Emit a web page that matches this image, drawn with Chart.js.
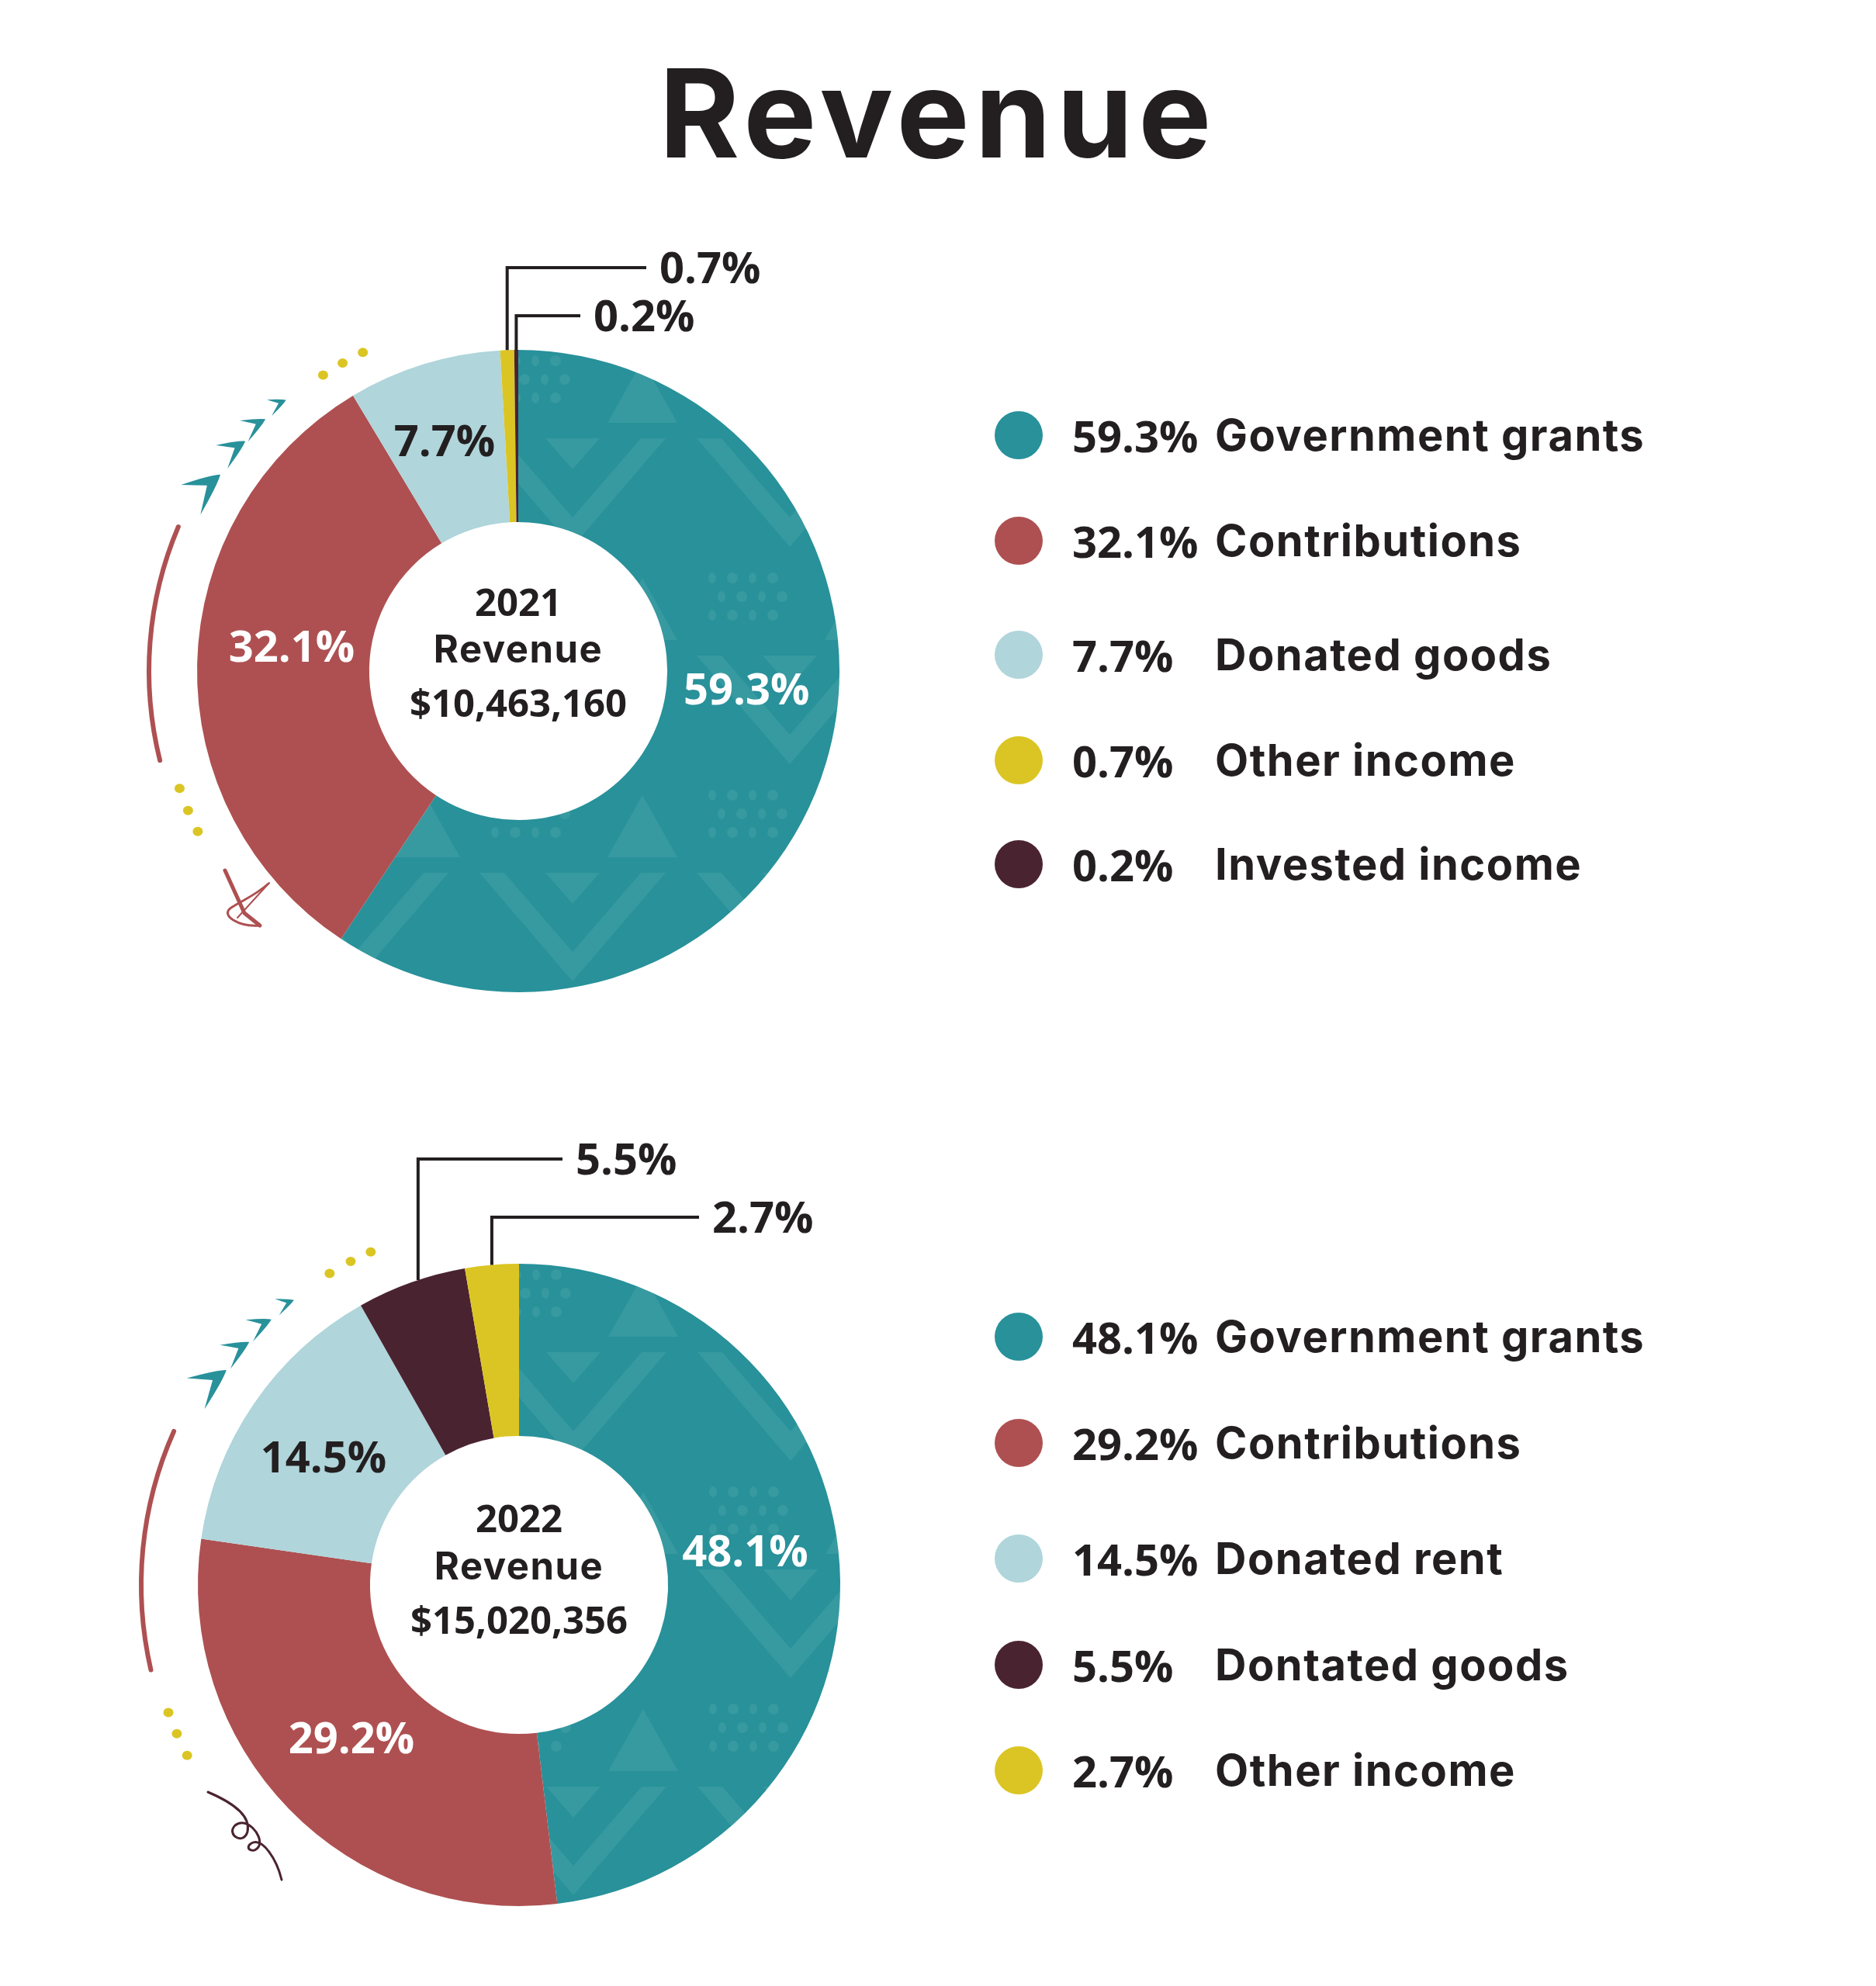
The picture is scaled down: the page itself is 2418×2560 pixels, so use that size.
<!DOCTYPE html>
<html>
<head>
<meta charset="utf-8">
<script src="https://cdn.jsdelivr.net/npm/chart.js@4.4.1/dist/chart.umd.min.js"></script>
<style>
html,body{margin:0;padding:0;background:#fff;}
body{width:2418px;height:2560px;position:relative;overflow:hidden;font-family:Inter,"Open Sans",sans-serif;color:#231F20;}
#title{position:absolute;left:0;width:2418px;top:67px;text-align:center;font-size:158px;line-height:158px;font-weight:700;letter-spacing:7px;}
canvas{position:absolute;}
.legend{position:absolute;left:1282px;top:0;z-index:2;}
.row{position:absolute;left:0;height:62px;width:1100px;white-space:nowrap;font-weight:700;font-size:56px;}
.dot{position:absolute;left:0;top:0;width:62px;height:62px;border-radius:50%;}
.pct{position:absolute;left:100px;top:0;line-height:62px;font-family:"Open Sans",sans-serif;}
.lab{position:absolute;left:284px;top:0;line-height:62px;letter-spacing:1.5px;}
</style>
</head>
<body>
<div id="title">Revenue</div>
<canvas id="c2021" width="1260" height="1200" style="left:38px;top:265px;width:1260px;height:1200px;"></canvas>
<canvas id="c2022" width="1260" height="1200" style="left:39px;top:1443px;width:1260px;height:1200px;"></canvas>
<div class="legend" id="leg2021"></div>
<div class="legend" id="leg2022"></div>
<script>
// ---------- data ----------
const years = ['2021', '2022'];
const totals = ['$10,463,160', '$15,020,356'];
const labels2021 = ['Government grants', 'Contributions', 'Donated goods', 'Other income', 'Invested income'];
const values2021 = [59.3, 32.1, 7.7, 0.7, 0.2];
const labels2022 = ['Government grants', 'Contributions', 'Donated rent', 'Dontated goods', 'Other income'];
const values2022 = [48.1, 29.2, 14.5, 5.5, 2.7];

// ---------- style ----------
const TEAL = '#28919A', TEAL_LIGHT = '#379AA0', RED = '#AE5051', LIGHT = '#B0D5DB',
      YELLOW = '#DBC524', DARK = '#4A2331', INK = '#231F20';
const colors2021 = [TEAL, RED, LIGHT, YELLOW, DARK];
const colors2022 = [TEAL, RED, LIGHT, DARK, YELLOW];
const WORD = 'Inter, "Open Sans", sans-serif';
const NUM = '"Open Sans", Inter, sans-serif';
Chart.defaults.font.family = WORD;

function makeTealPattern() {
  const c = document.createElement('canvas');
  c.width = 280; c.height = 280;
  const g = c.getContext('2d');
  g.fillStyle = TEAL; g.fillRect(0, 0, 280, 280);
  g.fillStyle = TEAL_LIGHT;
  g.beginPath();
  g.moveTo(20, 20); g.lineTo(140, 160); g.lineTo(260, 20); g.lineTo(228, 20);
  g.lineTo(140, 122); g.lineTo(52, 20); g.closePath(); g.fill();
  g.beginPath(); g.moveTo(105, 20); g.lineTo(175, 20); g.lineTo(140, 60); g.closePath(); g.fill();
  for (let i = 0; i < 4; i++) for (let j = 0; j < 3; j++) {
    g.beginPath();
    g.ellipse(40 + i * 26 + (j % 2) * 12, 200 + j * 24, 5 + (i % 2) * 2, 7, 0, 0, Math.PI * 2);
    g.fill();
  }
  g.beginPath(); g.moveTo(185, 280); g.lineTo(230, 200); g.lineTo(275, 280); g.closePath(); g.fill();
  return g.createPattern(c, 'repeat');
}
const tealPattern = makeTealPattern();
const fillOf = col => col === TEAL ? tealPattern : col;

function capText(ctx, txt, x, y, size, color, align, fam, spacing) {
  const cap = fam === NUM ? 0.714 : 0.727;
  ctx.font = '700 ' + size + 'px ' + fam;
  ctx.letterSpacing = (spacing || 0) + 'px';
  ctx.fillStyle = color;
  ctx.textAlign = align;
  ctx.textBaseline = 'alphabetic';
  ctx.fillText(txt, x, y + size * cap / 2);
  ctx.letterSpacing = '0px';
}
function polar(cx, cy, r, deg) {
  const t = deg * Math.PI / 180;
  return [cx + r * Math.sin(t), cy - r * Math.cos(t)];
}

const revenuePlugin = {
  id: 'revenue',
  afterDatasetsDraw(chart, args, o) {
    const ctx = chart.ctx;
    const arcs = chart.getDatasetMeta(0).data;
    const vals = chart.data.datasets[0].data;
    const cx = arcs[0].x, cy = arcs[0].y, R = arcs[0].outerRadius;
    ctx.save();
    // slice labels / callouts
    arcs.forEach((a, i) => {
      const txt = vals[i].toFixed(1) + '%';
      const co = o.callouts[i];
      if (co) {
        const mid = (a.startAngle + a.endAngle) / 2 + (co.shift || 0) * Math.PI / 180;
        const px = cx + R * Math.cos(mid), py = cy + R * Math.sin(mid);
        const ty = cy - R - co.rise;
        const ex = cx + co.endDx;
        ctx.strokeStyle = INK; ctx.lineWidth = 4; ctx.lineJoin = 'miter'; ctx.lineCap = 'butt';
        ctx.beginPath(); ctx.moveTo(px, py); ctx.lineTo(px, ty); ctx.lineTo(ex, ty); ctx.stroke();
        capText(ctx, txt, ex + 17, ty, 56, INK, 'left', NUM);
      } else {
        const p = a.tooltipPosition();
        const off = o.labelOffsets[i] || [0, 0];
        const col = chart.data.datasets[0].labelInk[i];
        capText(ctx, txt, p.x + off[0], p.y + off[1], 56, col, 'center', NUM);
      }
    });
    // centre text
    o.centerLines.forEach((t, k) => {
      const isNum = k !== 1;
      capText(ctx, t, cx, cy + o.centerDy[k], 49, INK, 'center', isNum ? NUM : WORD, isNum ? 0 : 1.5);
    });
    // decorations
    const d = o.deco;
    ctx.strokeStyle = RED; ctx.lineWidth = 6; ctx.lineCap = 'round';
    ctx.beginPath();
    ctx.arc(cx, cy, d.arc.r, (d.arc.from - 90) * Math.PI / 180, (d.arc.to - 90) * Math.PI / 180);
    ctx.stroke();
    ctx.fillStyle = YELLOW;
    [d.dotsTop, d.dotsBottom].forEach(set => set.angles.forEach(t => {
      const [x, y] = polar(cx, cy, set.r, t);
      ctx.beginPath(); ctx.ellipse(x, y, 6.5, 6, 0, 0, Math.PI * 2); ctx.fill();
    }));
    ctx.fillStyle = TEAL;
    d.chevrons.angles.forEach((t, k) => {
      const s = d.chevrons.sizes[k];
      const [x, y] = polar(cx, cy, d.chevrons.r, t);
      const tr = t * Math.PI / 180;
      const dx = Math.cos(tr), dy = Math.sin(tr);           // clockwise tangent
      const b = Math.atan2(-dy, -dx);                          // backwards
      const a1 = b + 42 * Math.PI / 180, a2 = b - 7 * Math.PI / 180;
      const bis = (a1 + a2) / 2, w = s * 0.4;
      const e1 = [x + s * 0.95 * Math.cos(a1), y + s * 0.95 * Math.sin(a1)];
      const e2 = [x + s * 1.05 * Math.cos(a2), y + s * 1.05 * Math.sin(a2)];
      const n = [x + w * Math.cos(bis), y + w * Math.sin(bis)];
      ctx.beginPath();
      ctx.moveTo(e1[0], e1[1]);
      ctx.quadraticCurveTo(x + (e1[0] - x) * 0.35 - 0.12 * s * Math.cos(bis), y + (e1[1] - y) * 0.35 - 0.12 * s * Math.sin(bis), x, y);
      ctx.quadraticCurveTo(x + (e2[0] - x) * 0.35 - 0.12 * s * Math.cos(bis), y + (e2[1] - y) * 0.35 - 0.12 * s * Math.sin(bis), e2[0], e2[1]);
      ctx.quadraticCurveTo(n[0] + (e2[0] - n[0]) * 0.3, n[1] + (e2[1] - n[1]) * 0.3, n[0], n[1]);
      ctx.quadraticCurveTo(n[0] + (e1[0] - n[0]) * 0.3, n[1] + (e1[1] - n[1]) * 0.3, e1[0], e1[1]);
      ctx.closePath();
      ctx.fill();
    });
    ctx.lineCap = 'round'; ctx.lineJoin = 'round';
    if (d.scribble === 'arrow') {
      ctx.strokeStyle = RED;
      ctx.lineWidth = 5;
      ctx.beginPath(); ctx.moveTo(cx - 378, cy + 257); ctx.lineTo(cx - 353, cy + 312); ctx.lineTo(cx - 333, cy + 328); ctx.stroke();
      ctx.lineWidth = 3;
      ctx.beginPath(); ctx.moveTo(cx - 333, cy + 328);
      ctx.bezierCurveTo(cx - 360, cy + 330, cx - 385, cy + 315, cx - 370, cy + 305);
      ctx.bezierCurveTo(cx - 355, cy + 295, cx - 340, cy + 290, cx - 322, cy + 274);
      ctx.stroke();
      ctx.lineWidth = 2;
      ctx.beginPath(); ctx.moveTo(cx - 321, cy + 273); ctx.lineTo(cx - 362, cy + 318); ctx.stroke();
    } else {
      ctx.strokeStyle = DARK;
      ctx.lineWidth = 3;
      ctx.beginPath();
      ctx.moveTo(cx - 401, cy + 267);
      ctx.bezierCurveTo(cx - 375, cy + 278, cx - 345, cy + 295, cx - 350, cy + 318);
      ctx.bezierCurveTo(cx - 355, cy + 336, cx - 378, cy + 322, cx - 366, cy + 310);
      ctx.bezierCurveTo(cx - 352, cy + 298, cx - 330, cy + 322, cx - 335, cy + 336);
      ctx.bezierCurveTo(cx - 340, cy + 348, cx - 356, cy + 340, cx - 345, cy + 333);
      ctx.bezierCurveTo(cx - 330, cy + 325, cx - 312, cy + 355, cx - 306, cy + 380);
      ctx.stroke();
    }
    ctx.restore();
  }
};

function makeChart(id, labels, values, colors, year, total, style) {
  return new Chart(document.getElementById(id), {
    type: 'doughnut',
    data: {
      labels: labels,
      datasets: [{
        data: values,
        backgroundColor: colors.map(fillOf),
        labelInk: colors.map(c => c === LIGHT ? INK : '#FFFFFF'),
        borderWidth: 0
      }]
    },
    options: {
      responsive: false,
      animation: false,
      events: [],
      rotation: 0,
      radius: 414,
      cutout: '46.4%',
      layout: { padding: 0 },
      plugins: {
        legend: { display: false },
        tooltip: { enabled: false },
        revenue: Object.assign({ centerLines: [year, 'Revenue', total] }, style)
      }
    },
    plugins: [revenuePlugin]
  });
}

makeChart('c2021', labels2021, values2021, colors2021, years[0], totals[0], {
  callouts: { 3: { rise: 106, endDx: 165 }, 4: { rise: 44, endDx: 80 } },
  labelOffsets: [[4, -64], [11, -25], [-6, -7]],
  centerDy: [-88, -29, 42],
  deco: {
    arc: { r: 476, from: 256, to: 293 },
    dotsTop: { r: 457, angles: [326.6, 330.3, 334] },
    dotsBottom: { r: 462, angles: [250.9, 247.1, 243.4] },
    chevrons: { r: 460, angles: [303.4, 310.1, 314.9, 319.4], sizes: [55, 40, 35, 26] },
    scribble: 'arrow'
  }
});
makeChart('c2022', labels2022, values2022, colors2022, years[1], totals[1], {
  callouts: { 3: { rise: 135, endDx: 56, shift: 1.3 }, 4: { rise: 60, endDx: 232 } },
  labelOffsets: [[-11, -26], [1, -15], [-2, 6]],
  centerDy: [-85, -25, 46],
  deco: {
    arc: { r: 487, from: 257, to: 294 },
    dotsTop: { r: 470, angles: [328.7, 332.5, 336] },
    dotsBottom: { r: 481, angles: [250, 246.5, 242.8] },
    chevrons: { r: 468, angles: [306.3, 312, 317, 321.7], sizes: [55, 40, 35, 26] },
    scribble: 'squiggle'
  }
});

// ---------- legends ----------
function buildLegend(elId, labels, values, colors, rowY) {
  const el = document.getElementById(elId);
  labels.forEach((lab, i) => {
    const row = document.createElement('div');
    row.className = 'row';
    row.style.top = (rowY[i] - 31) + 'px';
    row.innerHTML = '<div class="dot" style="background:' + colors[i] + '"></div>' +
      '<span class="pct">' + values[i].toFixed(1) + '%</span>' +
      '<span class="lab">' + lab + '</span>';
    el.appendChild(row);
  });
}
buildLegend('leg2021', labels2021, values2021, colors2021, [561, 697, 844, 980, 1114]);
buildLegend('leg2022', labels2022, values2022, colors2022, [1723, 1860, 2009, 2146, 2282]);
</script>
</body>
</html>
